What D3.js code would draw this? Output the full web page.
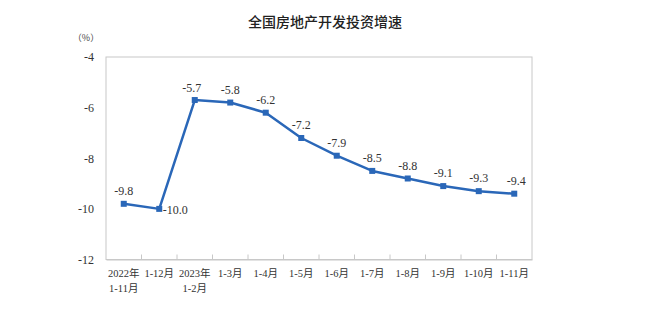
<!DOCTYPE html>
<html><head><meta charset="utf-8">
<script src="https://cdn.jsdelivr.net/npm/d3@7"></script>
<style>body{margin:0;background:#fff}</style>
</head><body>
<svg id="c" width="652" height="333"></svg>
<script>
const categories = ["2022年\n1-11月","1-12月","2023年\n1-2月","1-3月","1-4月","1-5月","1-6月","1-7月","1-8月","1-9月","1-10月","1-11月"];
const values = [-9.8,-10.0,-5.7,-5.8,-6.2,-7.2,-7.9,-8.5,-8.8,-9.1,-9.3,-9.4];
const yTicks = [-4,-6,-8,-10,-12];
const title = "全国房地产开发投资增速";
const unit = "（%）";

const svg = d3.select("#c");
const L=106,R=532,T=57,B=259.5;
const serif = "'Liberation Serif','Times New Roman','Noto Sans CJK SC',serif";
const x = d3.scaleBand().domain(categories).range([L,R]);
const y = d3.scaleLinear().domain([-12,-4]).range([B,T]);
const color = "#2a67b8";

svg.append("text").attr("x",325).attr("y",27).attr("text-anchor","middle")
  .attr("font-family","'Noto Sans CJK SC',sans-serif").attr("font-size",14).attr("font-weight",500)
  .attr("fill","#222").text(title);
svg.append("text").attr("x",86).attr("y",41).attr("text-anchor","middle")
  .attr("font-family","'Noto Sans CJK SC',sans-serif").attr("font-size",9).attr("fill","#444").text(unit);

// frame
svg.append("rect").attr("x",L).attr("y",T).attr("width",R-L).attr("height",B-T)
  .attr("fill","none").attr("stroke","#c8c8c8").attr("stroke-width",1);

// y axis labels
const ya = svg.append("g").attr("transform",`translate(${L},0)`)
  .call(d3.axisLeft(y).tickValues(yTicks).tickSize(0).tickPadding(12).tickFormat(d=>String(d)));
ya.select(".domain").remove();
ya.selectAll("text").attr("font-family",serif).attr("font-size",12).attr("fill","#333");

// x axis
const xa = svg.append("g").attr("transform",`translate(0,${B})`)
  .call(d3.axisBottom(x).tickSize(0).tickFormat(""));
xa.select(".domain").attr("stroke","#c8c8c8");
svg.append("g").selectAll("line").data(categories.slice(1)).join("line")
  .attr("x1",d=>x(d)).attr("x2",d=>x(d)).attr("y1",B).attr("y2",B-5)
  .attr("stroke","#c8c8c8");
const lab = svg.append("g").selectAll("text").data(categories).join("text")
  .attr("x",d=>x(d)+x.bandwidth()/2).attr("y",B+17).attr("text-anchor","middle")
  .attr("font-family",serif).attr("font-size",10.5).attr("fill","#333");
lab.each(function(d){
  const parts=d.split("\n");
  const cxv = x(d)+x.bandwidth()/2;
  d3.select(this).selectAll("tspan").data(parts).join("tspan")
    .attr("x",cxv).attr("dy",(p,i)=>i?15:0).text(p=>p);
});

const cx = d=>x(d)+x.bandwidth()/2;
const line = d3.line().x((v,i)=>cx(categories[i])).y(v=>y(v));
svg.append("path").datum(values).attr("d",line).attr("fill","none")
  .attr("stroke",color).attr("stroke-width",2.5).attr("stroke-linejoin","round");
svg.append("g").selectAll("rect").data(values).join("rect")
  .attr("x",(v,i)=>cx(categories[i])-3).attr("y",v=>y(v)-3).attr("width",6).attr("height",6).attr("fill",color);

const off = values.map((v,i)=> i===1?[16,5]: i===2?[-3,-8]: i===11?[2,-9]:[0,-9]);
svg.append("g").selectAll("text").data(values).join("text")
  .attr("x",(v,i)=>cx(categories[i])+off[i][0]).attr("y",(v,i)=>y(v)+off[i][1])
  .attr("text-anchor","middle").attr("font-family",serif).attr("font-size",12).attr("fill","#333")
  .text(v=>v.toFixed(1));
</script>
</body></html>
